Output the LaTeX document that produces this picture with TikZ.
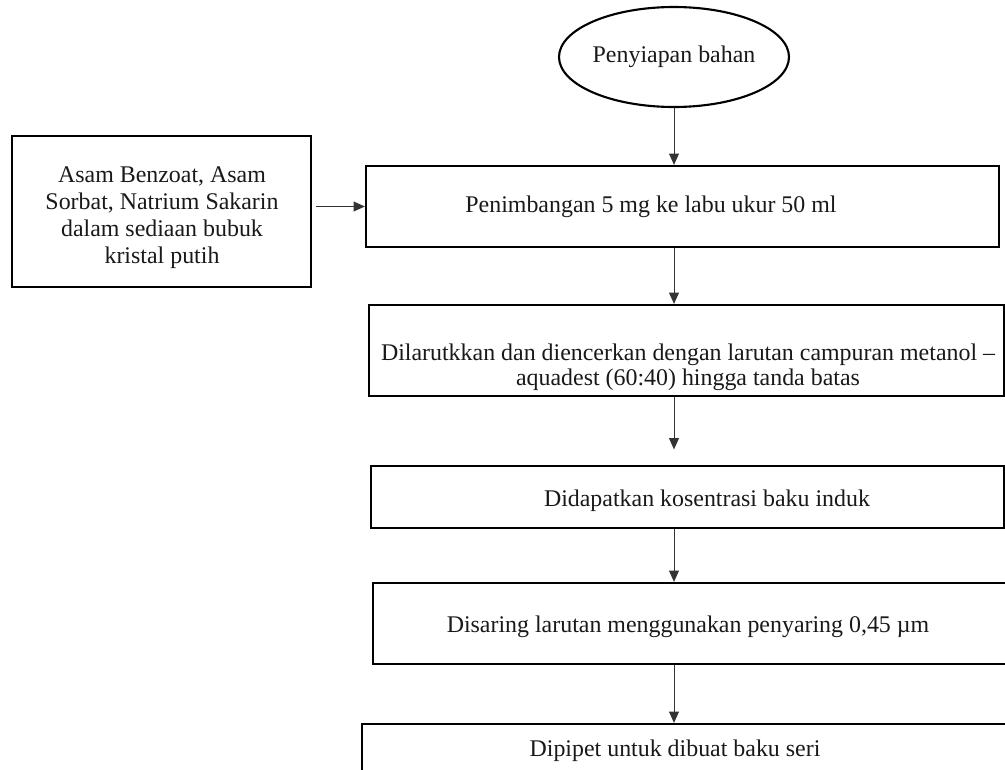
\documentclass[tikz,border=0pt]{standalone}
\usepackage{fontspec}
\setmainfont{Liberation Serif}
\usetikzlibrary{shapes.geometric, arrows.meta, positioning}

\newcommand{\unitpx}{0.025cm}

\begin{document}
\begin{tikzpicture}[
    x=0.025cm, y=-0.025cm,
    font=\fontsize{17}{17.5}\selectfont,
    box/.style={rectangle, draw, line width=1.6pt, inner sep=0pt},
    startblock/.style={ellipse, draw, line width=1.5pt, inner sep=0pt, minimum width=194*\unitpx, minimum height=100*\unitpx},
    txt/.style={align=center, inner sep=0pt, text=black!90},
    arrow/.style={-{Triangle[length=8pt, width=7pt]}, line width=0.7pt, draw=black!80}
]
    \useasboundingbox (0,0) rectangle (1005,769);

    % Nodes
    \node[startblock, txt, draw=black] (prep) at (674,57) {Penyiapan bahan};
    \node[box, minimum width=299*\unitpx, minimum height=151*\unitpx] (source) at (161.5,211.5) {};
    \node[box, minimum width=633*\unitpx, minimum height=81*\unitpx] (weigh) at (682.5,206.5) {};
    \node[box, minimum width=635*\unitpx, minimum height=91*\unitpx] (dissolve) at (686.5,350.5) {};
    \node[box, minimum width=633*\unitpx, minimum height=62*\unitpx] (stock) at (687.5,497) {};
    \node[box, minimum width=633*\unitpx, minimum height=81*\unitpx] (filter) at (689.5,623.5) {};
    \node[box, minimum width=653*\unitpx, minimum height=66*\unitpx] (pipette) at (688.5,757) {};

    % Texts
    \node[txt, font=\fontsize{17}{19.2}\selectfont] (sourcetext) at (162,218) {Asam Benzoat, Asam\\Sorbat, Natrium Sakarin\\dalam sediaan bubuk\\kristal putih};
    \node[txt] (weightext) at (651,207) {Penimbangan 5 mg ke labu ukur 50 ml};
    \node[txt] (dissolvetext) at (688,367) {Dilarutkkan dan diencerkan dengan larutan campuran metanol --\\aquadest (60:40) hingga tanda batas};
    \node[txt] (stocktext) at (707,501) {Didapatkan kosentrasi baku induk};
    \node[txt] (filtertext) at (688,627) {Disaring larutan menggunakan penyaring 0,45 µm};
    \node[txt] (pipettetext) at (675,751) {Dipipet untuk dibuat baku seri};

    % Arrows
    \draw[arrow] (prep) -- (prep |- weigh.north);
    \draw[arrow, shorten <=3pt] (source.east |- weigh.west) -- (weigh.west);
    \draw[arrow] (weigh.south -| prep) -- (dissolve.north -| prep);
    \draw[arrow, shorten >=11pt] (dissolve.south -| prep) -- (stock.north -| prep);
    \draw[arrow] (stock.south -| prep) -- (filter.north -| prep);
    \draw[arrow] (filter.south -| prep) -- (pipette.north -| prep);
\end{tikzpicture}
\end{document}
